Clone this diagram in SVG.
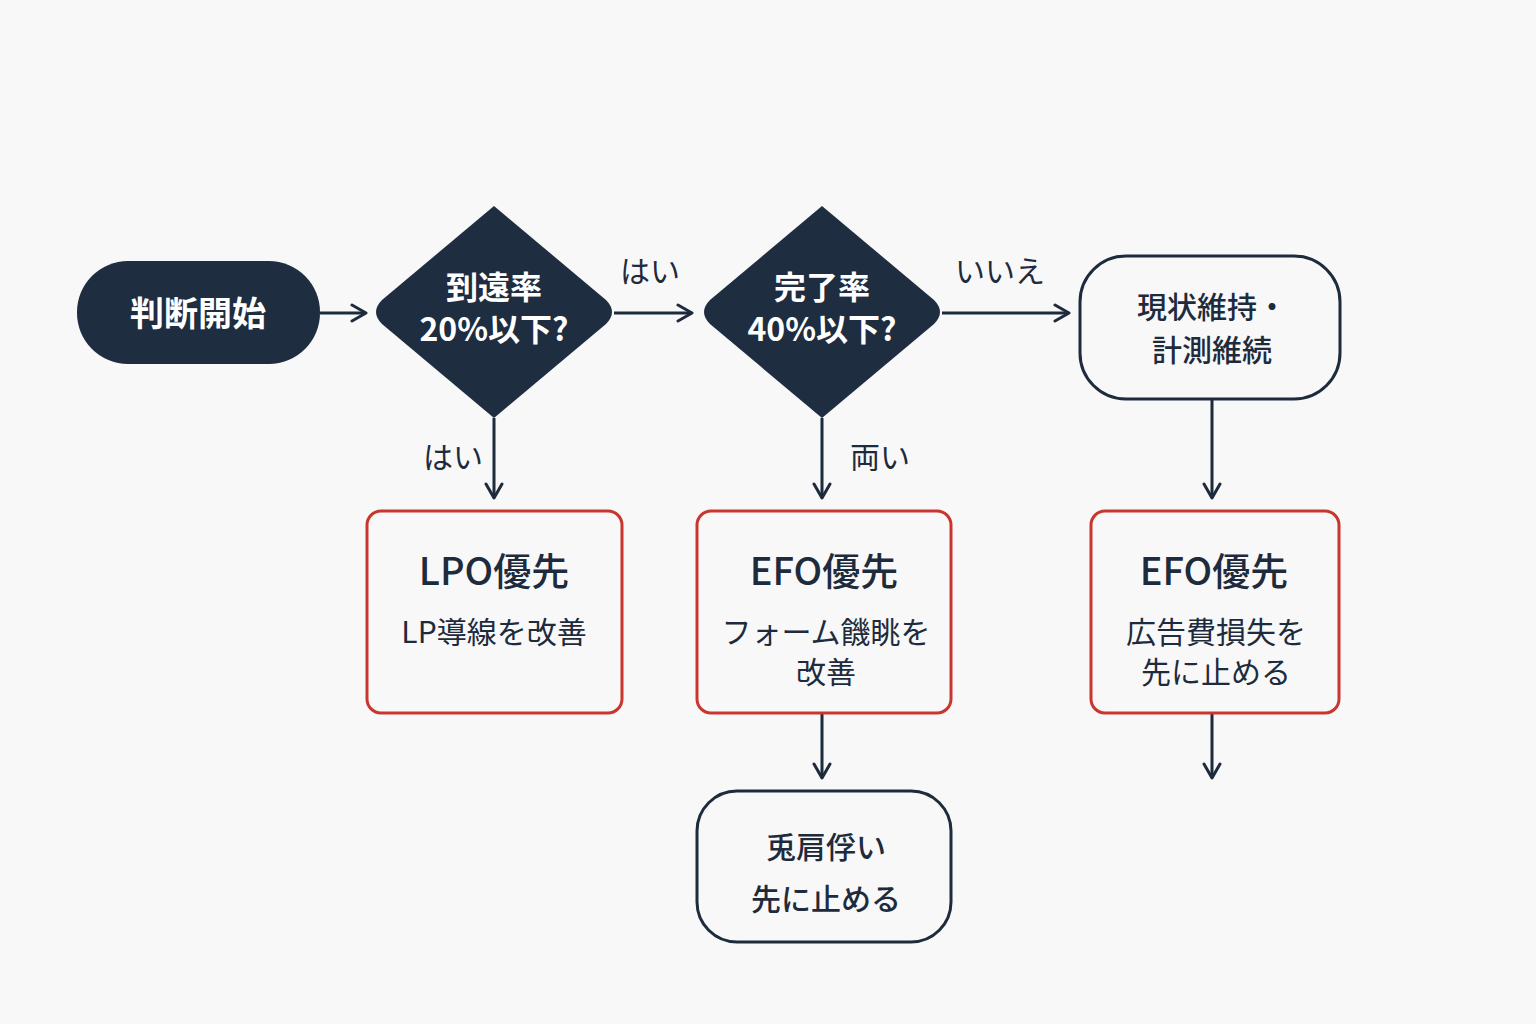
<svg xmlns="http://www.w3.org/2000/svg" width="1536" height="1024" viewBox="0 0 1536 1024">
<defs>
<marker id="ah" viewBox="0 0 20 20" refX="18" refY="10" markerWidth="20" markerHeight="20" markerUnits="userSpaceOnUse" orient="auto"><path d="M4 2 L18 10 L4 18" fill="none" stroke="#1e2b3c" stroke-width="3" stroke-linecap="round" stroke-linejoin="round"/></marker>
</defs>
<style>
text{font-family:"Noto Sans CJK JP","Noto Sans",sans-serif;text-anchor:middle;fill:#1e2b3c}
.w{fill:#fff;font-weight:bold}
.dark{fill:#1e2d40}
.out{fill:#f8f8f8;stroke:#1e2b3c;stroke-width:3}
.red{fill:#f8f8f8;stroke:#c8362e;stroke-width:3}
.c{stroke:#1e2b3c;stroke-width:3;fill:none;marker-end:url(#ah)}
.t{font-size:30px}
.h{font-size:38px;font-weight:500}
.s{font-size:30px}
</style>
<rect width="1536" height="1024" fill="#f8f8f8"/>
<g id="connectors">
<line class="c" x1="320" y1="313" x2="366" y2="313"/>
<line class="c" x1="614" y1="313" x2="692" y2="313"/>
<line class="c" x1="942" y1="313" x2="1069" y2="313"/>
<line class="c" x1="494" y1="418" x2="494" y2="498"/>
<line class="c" x1="822" y1="418" x2="822" y2="498"/>
<line class="c" x1="1212" y1="399" x2="1212" y2="498"/>
<line class="c" x1="822" y1="713" x2="822" y2="778"/>
<line class="c" x1="1212" y1="713" x2="1212" y2="778"/>
<text x="650" y="282" class="s">はい</text>
<text x="1000" y="282" class="s">いいえ</text>
<text x="453" y="468" class="s">はい</text>
<text x="880" y="468" class="s">両い</text>
</g>
<g id="start"><rect class="dark" x="77" y="261" width="243" height="103" rx="51"/><text x="198" y="326" class="w" font-size="34">判断開始</text></g>
<g id="d1"><path class="dark" d="M494 206 L606 300 Q618 312 606 324 L494 418 L382 324 Q370 312 382 300 Z"/><text x="494" y="299" class="w" font-size="32">到遠率</text><text x="494" y="341" class="w" font-size="32">20%以下?</text></g>
<g id="d2"><path class="dark" d="M822 206 L934 300 Q946 312 934 324 L822 418 L710 324 Q698 312 710 300 Z"/><text x="822" y="299" class="w" font-size="32">完了率</text><text x="822" y="341" class="w" font-size="32">40%以下?</text></g>
<g id="keep"><rect class="out" x="1080" y="256" width="260" height="143" rx="46"/><text x="1212" y="318" class="t" font-weight="500">現状維持・</text><text x="1212" y="361" class="t" font-weight="500">計測維続</text></g>
<g id="lpo"><rect class="red" x="367" y="511" width="255" height="202" rx="14"/><text x="494" y="585" class="h">LPO優先</text><text x="494" y="643" class="t">LP導線を改善</text></g>
<g id="efo1"><rect class="red" x="697" y="511" width="254" height="202" rx="14"/><text x="824" y="585" class="h">EFO優先</text><text x="826" y="643" class="t">フォーム饑眺を</text><text x="826" y="683" class="t">改善</text></g>
<g id="efo2"><rect class="red" x="1091" y="511" width="248" height="202" rx="14"/><text x="1214" y="585" class="h">EFO優先</text><text x="1216" y="643" class="t">広告費損失を</text><text x="1216" y="683" class="t">先に止める</text></g>
<g id="stop"><rect class="out" x="697" y="791" width="254" height="151" rx="40"/><text x="826" y="858" class="t" font-weight="500">兎肩俘い</text><text x="826" y="910" class="t" font-weight="500">先に止める</text></g>
</svg>
